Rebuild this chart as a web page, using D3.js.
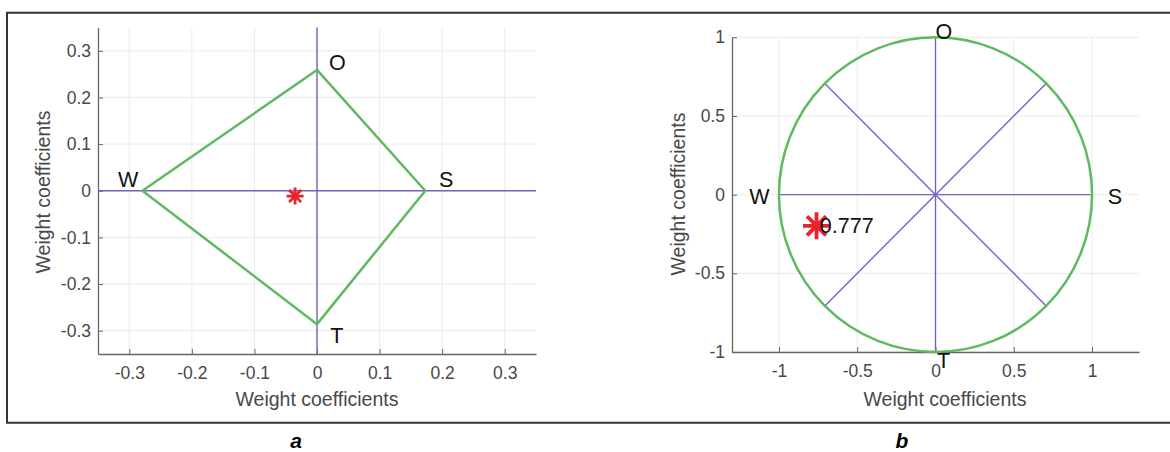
<!DOCTYPE html>
<html>
<head>
<meta charset="utf-8">
<script src="https://cdn.jsdelivr.net/npm/d3@7"></script>
<style>
  body { margin: 0; background: #fff; }
  svg { display: block; font-family: "Liberation Sans", Arial, sans-serif; }
  .tick text { fill: #484848; font-size: 17.5px; }
  .axis path, .axis line { stroke: #666; }
</style>
</head>
<body>
<svg id="chart" width="1170" height="452"></svg>
<script>
// panel a: tick values and labels
var aTicks = [-0.3, -0.2, -0.1, 0, 0.1, 0.2, 0.3];
var aTickLabels = ["-0.3", "-0.2", "-0.1", "0", "0.1", "0.2", "0.3"];
// diamond corners (O, S, T, W)
var aCornerNames = ["O", "S", "T", "W"];
var aCornerX = [0, 0.173, 0, -0.279];
var aCornerY = [0.259, 0, -0.286, 0];
// corner label anchors
var aLabelX = [0.019, 0.195, 0.021, -0.318];
var aLabelY = [0.276, 0.025, -0.311, 0.025];
// marked point
var aPointX = -0.035, aPointY = -0.0115;

// panel b
var bTicks = [-1, -0.5, 0, 0.5, 1];
var bTickLabels = ["-1", "-0.5", "0", "0.5", "1"];
var bSpokeAngles = [0, 45, 90, 135, 180, 225, 270, 315];
var bLabelNames = ["O", "S", "T", "W"];
var bLabelX = [0, 1.10, 0.01, -1.19];
var bLabelY = [1.034, -0.01, -1.054, -0.01];
var bPointX = -0.76, bPointY = -0.198;
var bPointText = "0.777";
var bTextX = -0.739, bTextY = -0.198;

var green = "#5fba5f", purple = "#7563c4", grid = "#ebebeb";
var svg = d3.select("#chart");

// outer frame (open on the right)
svg.append("path")
  .attr("d", "M1172,12.7H7V422.7H1172")
  .attr("fill", "none").attr("stroke", "#333").attr("stroke-width", 2);

function panel(opt) {
  var x = d3.scaleLinear().domain(opt.xDomain).range(opt.xRange);
  var y = d3.scaleLinear().domain(opt.yDomain).range(opt.yRange);
  var g = svg.append("g");

  // grid
  g.selectAll(".gx").data(opt.ticks).enter().append("line")
    .attr("x1", d => x(d)).attr("x2", d => x(d))
    .attr("y1", opt.yRange[0]).attr("y2", opt.yRange[1])
    .attr("stroke", grid);
  g.selectAll(".gy").data(opt.yTicks).enter().append("line")
    .attr("y1", d => y(d)).attr("y2", d => y(d))
    .attr("x1", opt.xRange[0]).attr("x2", opt.xRange[1])
    .attr("stroke", grid);

  var xAxis = d3.axisBottom(x).tickValues(opt.ticks)
    .tickFormat((d, i) => opt.tickLabels[i])
    .tickSizeInner(-5).tickSizeOuter(0).tickPadding(13);
  g.append("g").attr("class", "axis")
    .attr("transform", "translate(0," + opt.yRange[0] + ")")
    .call(xAxis);
  var yAxis = d3.axisLeft(y).tickValues(opt.yTicks)
    .tickFormat((d, i) => opt.yTickLabels[i])
    .tickSizeInner(-5).tickSizeOuter(0).tickPadding(7);
  g.append("g").attr("class", "axis")
    .attr("transform", "translate(" + opt.xRange[0] + ",0)")
    .call(yAxis);
  g.selectAll(".axis .domain").attr("stroke-width", 1.3);

  // axis titles
  g.append("text")
    .attr("x", opt.xTitle[0]).attr("y", opt.xTitle[1])
    .attr("text-anchor", "middle").attr("font-size", 19.5).attr("fill", "#484848")
    .text("Weight coefficients");
  g.append("text")
    .attr("transform", "translate(" + opt.yTitle[0] + "," + opt.yTitle[1] + ") rotate(-90)")
    .attr("text-anchor", "middle").attr("font-size", 19.5).attr("fill", "#484848")
    .text("Weight coefficients");

  // panel letter
  g.append("text")
    .attr("x", opt.letter[0]).attr("y", opt.letter[1])
    .attr("text-anchor", "middle").attr("font-size", 21)
    .attr("font-weight", "bold").attr("font-style", "italic")
    .text(opt.letterText);

  return {x: x, y: y, g: g};
}

function asterisk(g, cx, cy, r, w) {
  var s = r * Math.SQRT1_2;
  var path = "M" + (cx - r) + "," + cy + "H" + (cx + r) +
    "M" + cx + "," + (cy - r) + "V" + (cy + r) +
    "M" + (cx - s) + "," + (cy - s) + "L" + (cx + s) + "," + (cy + s) +
    "M" + (cx - s) + "," + (cy + s) + "L" + (cx + s) + "," + (cy - s);
  g.append("path").attr("d", path).attr("stroke", "#e8232a")
    .attr("stroke-width", w).attr("fill", "none");
}

// ---- panel a ----
var a = panel({
  xDomain: [-0.35, 0.35], xRange: [98, 536],
  yDomain: [-0.35, 0.35], yRange: [354, 27.5],
  ticks: aTicks, tickLabels: aTickLabels,
  yTicks: aTicks, yTickLabels: aTickLabels,
  xTitle: [317, 406], yTitle: [50, 192],
  letter: [296, 448], letterText: "a"
});
// cross lines
a.g.append("line").attr("x1", a.x(-0.35)).attr("x2", a.x(0.35))
  .attr("y1", a.y(0)).attr("y2", a.y(0)).attr("stroke", purple).attr("stroke-width", 1.4);
a.g.append("line").attr("x1", a.x(0)).attr("x2", a.x(0))
  .attr("y1", a.y(-0.35)).attr("y2", a.y(0.35)).attr("stroke", purple).attr("stroke-width", 1.4);
// diamond
var corners = aCornerX.map((d, i) => [a.x(d), a.y(aCornerY[i])]);
a.g.append("path").attr("d", d3.line()(corners) + "Z")
  .attr("fill", "none").attr("stroke", green).attr("stroke-width", 2.5)
  .attr("stroke-linejoin", "round");
asterisk(a.g, a.x(aPointX), a.y(aPointY), 8.5, 2.8);
a.g.selectAll(".lab").data(aCornerNames).enter().append("text")
  .attr("x", (d, i) => a.x(aLabelX[i])).attr("y", (d, i) => a.y(aLabelY[i]))
  .attr("dy", "0.35em").attr("font-size", 21.5).attr("fill", "#111")
  .text(d => d);

// ---- panel b ----
var b = panel({
  xDomain: [-1.3, 1.3], xRange: [732, 1139],
  yDomain: [-1, 1], yRange: [352, 37.3],
  ticks: bTicks, tickLabels: bTickLabels,
  yTicks: bTicks, yTickLabels: bTickLabels,
  xTitle: [945, 406], yTitle: [685, 194],
  letter: [902, 448], letterText: "b"
});
b.g.selectAll(".spoke").data(bSpokeAngles).enter().append("line")
  .attr("x1", b.x(0)).attr("y1", b.y(0))
  .attr("x2", d => b.x(Math.cos(d * Math.PI / 180)))
  .attr("y2", d => b.y(Math.sin(d * Math.PI / 180)))
  .attr("stroke", purple).attr("stroke-width", 1.4);
b.g.append("ellipse")
  .attr("cx", b.x(0)).attr("cy", b.y(0))
  .attr("rx", b.x(1) - b.x(0)).attr("ry", b.y(0) - b.y(1))
  .attr("fill", "none").attr("stroke", green).attr("stroke-width", 2.5);
asterisk(b.g, b.x(bPointX), b.y(bPointY), 13.5, 3.8);
b.g.append("text").attr("x", b.x(bTextX)).attr("y", b.y(bTextY))
  .attr("dy", "0.35em").attr("font-size", 21.5).attr("fill", "#111")
  .text(bPointText);
b.g.selectAll(".lab").data(bLabelNames).enter().append("text")
  .attr("x", (d, i) => b.x(bLabelX[i])).attr("y", (d, i) => b.y(bLabelY[i]))
  .attr("dy", "0.35em").attr("font-size", 21.5).attr("fill", "#111")
  .text(d => d);
</script>
</body>
</html>
